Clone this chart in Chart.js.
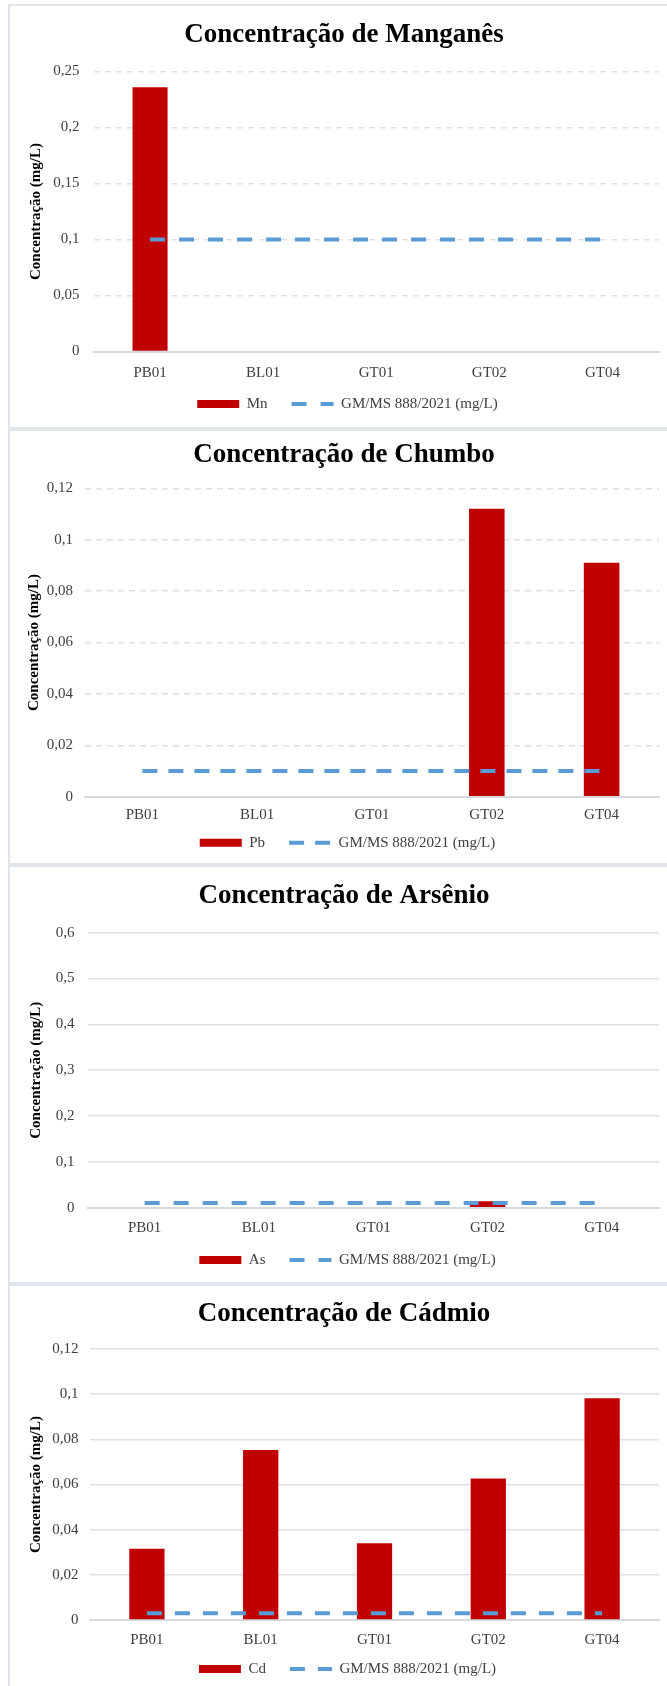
<!DOCTYPE html>
<html lang="pt-BR">
<head>
<meta charset="utf-8">
<title>Concentração de metais</title>
<script src="https://cdn.jsdelivr.net/npm/chart.js@4.4.1/dist/chart.umd.min.js"></script>
<style>
  html, body { margin: 0; padding: 0; background: #ffffff; }
  body { width: 667px; height: 1686px; overflow: hidden; position: relative; }
  .stack { position: absolute; left: 8px; top: 4px; }
  .panel { border: 2px solid #e1e4e8; border-right: none; width: 657px; background: #fff; }
  .panel canvas { display: block; }
</style>
</head>
<body>
<div class="stack">
  <div class="panel"><canvas id="chartMn" width="657" height="421"></canvas></div>
  <div class="panel"><canvas id="chartPb" width="657" height="432"></canvas></div>
  <div class="panel"><canvas id="chartAs" width="657" height="415"></canvas></div>
  <div class="panel"><canvas id="chartCd" width="657" height="420"></canvas></div>
</div>
<script>
// Sampling points
const categories = ['PB01', 'BL01', 'GT01', 'GT02', 'GT04'];
const limitLabel = 'GM/MS 888/2021 (mg/L)';
const axisTitle = 'Concentração (mg/L)';

// Manganês
const mnValues = [0.236, null, null, null, null];
const mnLimit = [0.1, 0.1, 0.1, 0.1, 0.1];
const mnTicks = [0, 0.05, 0.1, 0.15, 0.2, 0.25];

// Chumbo
const pbValues = [null, null, null, 0.112, 0.091];
const pbLimit = [0.01, 0.01, 0.01, 0.01, 0.01];
const pbTicks = [0, 0.02, 0.04, 0.06, 0.08, 0.1, 0.12];

// Arsênio
const asValues = [null, null, null, 0.014, null];
const asLimit = [0.01, 0.01, 0.01, 0.01, 0.01];
const asTicks = [0, 0.1, 0.2, 0.3, 0.4, 0.5, 0.6];

// Cádmio
const cdValues = [0.0316, 0.0753, 0.034, 0.0627, 0.0982];
const cdLimit = [0.003, 0.003, 0.003, 0.003, 0.003];
const cdTicks = [0, 0.02, 0.04, 0.06, 0.08, 0.1, 0.12];

const SERIF = "'Liberation Serif', 'Times New Roman', serif";
const BAR_RED = '#c00000';
const LIMIT_BLUE = '#5b9bd5';
const GRID = '#dde0e5';
const BASELINE = '#d6d9df';
const TEXT = '#404040';

Chart.defaults.font.family = SERIF;
Chart.defaults.color = TEXT;

// Nudges the title and legend blocks sideways after layout and lets the
// category labels spill into the legend's top padding instead of being clipped
const boxShift = {
  id: 'boxShift',
  afterLayout(chart, args, opts) {
    const t = chart.titleBlock, l = chart.legend, xs = chart.scales.x;
    if (t && opts.title) { t.left += opts.title; t.right += opts.title; }
    if (l && opts.legend) { l.left += opts.legend; l.right += opts.legend; }
    if (xs) { xs.bottom = chart.height; }
  }
};

function commaNumber(v) {
  return String(+Number(v).toFixed(4)).replace('.', ',');
}

function legendLabels(chart) {
  const items = Chart.defaults.plugins.legend.labels.generateLabels(chart);
  items.forEach(it => {
    const ds = chart.data.datasets[it.datasetIndex];
    if (ds.type === 'line') {
      it.pointStyle = 'line';
      it.lineDash = ds.borderDash;
      it.lineWidth = ds.borderWidth;
      it.strokeStyle = ds.borderColor;
    } else {
      it.pointStyle = 'rect';
      it.lineWidth = 0;
      it.fillStyle = ds.backgroundColor;
    }
  });
  return items.sort((a, b) => a.datasetIndex - b.datasetIndex);
}

function buildChart(id, p) {
  return new Chart(document.getElementById(id), {
    data: {
      labels: categories,
      datasets: [
        {
          type: 'bar', label: p.metal, data: p.values,
          backgroundColor: BAR_RED, borderWidth: 0,
          barPercentage: 0.31, categoryPercentage: 1, order: 1
        },
        {
          type: 'line', label: limitLabel, data: p.limit,
          borderColor: LIMIT_BLUE, backgroundColor: LIMIT_BLUE,
          borderWidth: 4, borderDash: p.dash, pointRadius: 0,
          fill: false, tension: 0, order: 0
        }
      ]
    },
    options: {
      responsive: false,
      animation: false,
      devicePixelRatio: 1,
      layout: { padding: { top: 0, left: 0, right: 8, bottom: p.padBottom } },
      plugins: {
        tooltip: { enabled: false },
        title: {
          display: true, text: p.title, color: '#000000',
          font: { family: SERIF, size: 27, weight: 'bold' },
          padding: { top: p.titleTop, bottom: p.titleBottom }
        },
        legend: {
          position: 'bottom',
          labels: {
            usePointStyle: true, pointStyleWidth: 42, boxWidth: 42, boxHeight: 8,
            padding: 24, color: TEXT, font: { family: SERIF, size: 15 },
            generateLabels: legendLabels
          }
        },
        boxShift: { title: 9.5, legend: 13 }
      },
      scales: {
        x: {
          grid: { display: false },
          border: { display: true, color: BASELINE, width: 2 },
          ticks: { padding: p.xPad, color: TEXT, font: { family: SERIF, size: 15 }, autoSkip: false, maxRotation: 0 },
          afterFit(scale) { scale.height = p.xHeight; }
        },
        y: {
          min: 0, max: p.ticks[p.ticks.length - 1],
          afterBuildTicks(scale) { scale.ticks = p.ticks.map(v => ({ value: v })); },
          ticks: { padding: p.yPad, color: TEXT, font: { family: SERIF, size: 15 }, callback: v => commaNumber(v) },
          grid: { color: GRID, lineWidth: 1.5, drawTicks: false },
          border: { display: false, dash: p.gridDash },
          title: {
            display: true, text: axisTitle, color: '#000000',
            font: { family: SERIF, size: 15, weight: 'bold' },
            padding: { top: p.yTitlePad, bottom: 0 }
          },
          afterFit(scale) { scale.width = p.yWidth; }
        }
      }
    },
    plugins: [boxShift]
  });
}

buildChart('chartMn', {
  title: 'Concentração de Manganês', metal: 'Mn', values: mnValues, limit: mnLimit, ticks: mnTicks,
  dash: [15, 14], gridDash: [6, 5],
  titleTop: 13.3, titleBottom: 19.8, padBottom: 5.5, xHeight: 21, xPad: 5,
  yWidth: 83.5, yPad: 14, yTitlePad: 17.5
});
buildChart('chartPb', {
  title: 'Concentração de Chumbo', metal: 'Pb', values: pbValues, limit: pbLimit, ticks: pbTicks,
  dash: [15, 11], gridDash: [6, 5],
  titleTop: 7.8, titleBottom: 17.1, padBottom: 2.8, xHeight: 14.5, xPad: 1.2,
  yWidth: 75, yPad: 12, yTitlePad: 15
});
buildChart('chartAs', {
  title: 'Concentração de Arsênio', metal: 'As', values: asValues, limit: asLimit, ticks: asTicks,
  dash: [15, 14], gridDash: [],
  titleTop: 12.5, titleBottom: 20.8, padBottom: 4.5, xHeight: 20.8, xPad: 2.9,
  yWidth: 77.5, yPad: 13, yTitlePad: 17
});
buildChart('chartCd', {
  title: 'Concentração de Cádmio', metal: 'Cd', values: cdValues, limit: cdLimit, ticks: cdTicks,
  dash: [15, 13], gridDash: [],
  titleTop: 11.8, titleBottom: 18.8, padBottom: 19.5, xHeight: 17.5, xPad: 2.6,
  yWidth: 80, yPad: 11.5, yTitlePad: 17.6
});
</script>
</body>
</html>
